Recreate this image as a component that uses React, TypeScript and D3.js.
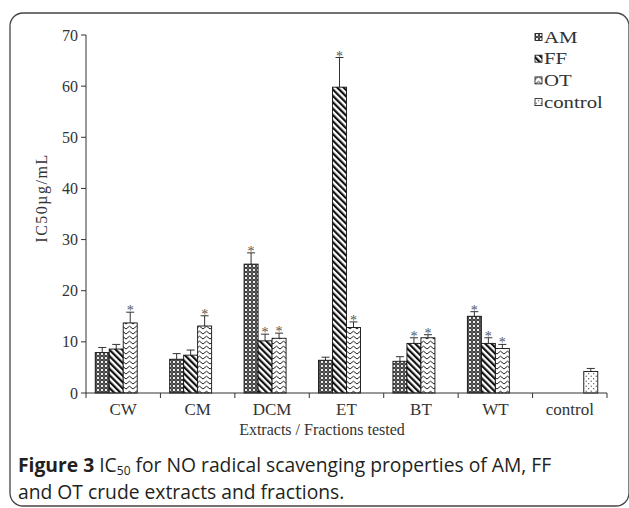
import React from "react";
import * as d3 from "d3";

// categories on the x axis
const categories = ["CW", "CM", "DCM", "ET", "BT", "WT", "control"];
const seriesNames = ["AM", "FF", "OT", "control"];

// IC50 values (µg/mL), null = no bar
const amValues = [7.9, 6.6, 25.2, 6.4, 6.2, 15.0, null];
const ffValues = [8.6, 7.4, 10.2, 59.8, 9.7, 9.7, null];
const otValues = [13.7, 13.1, 10.7, 12.8, 10.8, 8.7, null];
const controlValues = [null, null, null, null, null, null, 4.2];

// upper error bars
const amErrors = [1.0, 1.1, 2.2, 0.6, 0.9, 0.9, null];
const ffErrors = [0.9, 1.0, 1.3, 5.8, 1.1, 1.1, null];
const otErrors = [2.1, 2.0, 1.0, 1.1, 0.6, 0.8, null];
const controlErrors = [null, null, null, null, null, null, 0.6];

// significance stars
const amStars = [false, false, true, false, false, true, false];
const ffStars = [false, false, true, true, true, true, false];
const otStars = [true, true, true, true, true, true, false];
const controlStars = [false, false, false, false, false, false, false];

const yTicks = [0, 10, 20, 30, 40, 50, 60, 70];

const W = 629;
const H = 508;
const serif = "'Liberation Serif', 'Times New Roman', serif";
const sans = "'Open Sans', 'Noto Sans', sans-serif";
const ink = "#333";

const Patterns = () => (
  <defs>
    <pattern id="pAM" width="4" height="4" patternUnits="userSpaceOnUse">
      <rect width="4" height="4" fill="#2a2a2a" />
      <circle cx="2" cy="2" r="1.3" fill="#eee" />
      <circle cx="0" cy="0" r="0.7" fill="#bbb" />
      <circle cx="4" cy="4" r="0.7" fill="#bbb" />
      <circle cx="4" cy="0" r="0.7" fill="#bbb" />
      <circle cx="0" cy="4" r="0.7" fill="#bbb" />
    </pattern>
    <pattern id="pFF" width="4.5" height="4.5" patternUnits="userSpaceOnUse" patternTransform="rotate(-45)">
      <rect width="4.5" height="4.5" fill="#fff" />
      <rect width="2.2" height="4.5" fill="#111" />
    </pattern>
    <pattern id="pOT" width="7" height="5" patternUnits="userSpaceOnUse">
      <rect width="7" height="5" fill="#fff" />
      <path d="M0,4 L3.5,1.2 L7,4" fill="none" stroke="#222" strokeWidth="1" />
    </pattern>
    <pattern id="pCT" width="5" height="5" patternUnits="userSpaceOnUse">
      <rect width="5" height="5" fill="#fff" />
      <circle cx="1.2" cy="1.2" r="0.6" fill="#333" />
      <circle cx="3.7" cy="3.7" r="0.6" fill="#333" />
    </pattern>
  </defs>
);

const fills = ["url(#pAM)", "url(#pFF)", "url(#pOT)", "url(#pCT)"];

export default function App() {
  const x = d3.scaleBand<string>().domain(categories).range([86, 607]).padding(0);
  const xs = d3
    .scaleBand<string>()
    .domain(seriesNames)
    .range([0, x.bandwidth()])
    .paddingInner(0)
    .paddingOuter(0.66);
  const y = d3.scaleLinear().domain([0, 70]).range([393, 35]);

  const values = [amValues, ffValues, otValues, controlValues];
  const errors = [amErrors, ffErrors, otErrors, controlErrors];
  const stars = [amStars, ffStars, otStars, controlStars];

  const bars: any[] = [];
  seriesNames.forEach((s, si) => {
    categories.forEach((c, ci) => {
      const v = values[si][ci];
      if (v == null) return;
      bars.push({
        x: (x(c) as number) + (xs(s) as number),
        v,
        e: errors[si][ci] ?? 0,
        star: stars[si][ci],
        fill: fills[si],
        key: s + c,
      });
    });
  });
  const bw = xs.bandwidth();

  return (
    <svg width={W} height={H} style={{ position: "absolute", left: 0, top: 0 }}>
      <Patterns />
      <rect x={0} y={0} width={W} height={H} fill="#fff" />
      {/* frame */}
      <rect x={10} y={13} width={619} height={493} rx={13} fill="none" stroke="#444" strokeWidth={1.3} />

      {/* bars */}
      {bars.map((b) => {
        const top = y(b.v);
        const et = y(b.v + b.e);
        const cx = b.x + bw / 2;
        return (
          <g key={b.key}>
            <line x1={cx} x2={cx} y1={top} y2={et} stroke={ink} strokeWidth={1} />
            <line x1={cx - 4} x2={cx + 4} y1={et} y2={et} stroke={ink} strokeWidth={1} />
            <rect x={b.x} y={top} width={bw} height={y(0) - top} fill={b.fill} stroke="#111" strokeWidth={0.9} />
            {b.star && (
              <text x={cx} y={et + 3} textAnchor="middle" fontFamily={serif} fontSize={14} fill="#555">
                *
              </text>
            )}
          </g>
        );
      })}

      {/* y axis */}
      <line x1={86} x2={86} y1={y(70)} y2={y(0)} stroke={ink} strokeWidth={1} />
      {yTicks.map((t) => (
        <g key={t}>
          <line x1={81} x2={86} y1={y(t)} y2={y(t)} stroke={ink} strokeWidth={1} />
          <text x={78} y={y(t) + 5.5} textAnchor="end" fontFamily={serif} fontSize={16} fill={ink}>
            {t}
          </text>
        </g>
      ))}
      <text
        transform={`translate(47,198) rotate(-90)`}
        textAnchor="middle"
        fontFamily={serif}
        fontSize={16}
        letterSpacing={1.5}
        fill={ink}
      >
        IC50µg/mL
      </text>

      {/* x axis */}
      <line x1={86} x2={607} y1={y(0)} y2={y(0)} stroke={ink} strokeWidth={1} />
      {categories.map((c) => (
        <g key={c}>
          <line x1={(x(c) as number) + x.bandwidth()} x2={(x(c) as number) + x.bandwidth()} y1={y(0)} y2={y(0) + 5} stroke={ink} strokeWidth={1} />
          <text x={(x(c) as number) + x.bandwidth() / 2} y={415} textAnchor="middle" fontFamily={serif} fontSize={17} fill={ink}>
            {c}
          </text>
        </g>
      ))}
      <line x1={86} x2={86} y1={y(0)} y2={y(0) + 5} stroke={ink} strokeWidth={1} />
      <text x={322} y={435} textAnchor="middle" fontFamily={serif} fontSize={16} fill={ink}>
        Extracts / Fractions tested
      </text>

      {/* legend */}
      {seriesNames.map((s, i) => (
        <g key={s} transform={`translate(535,${37 + i * 21.7})`}>
          <rect x={0} y={-3.5} width={7} height={7} fill={fills[i]} stroke="#111" strokeWidth={0.8} />
          <text transform="translate(9,5.5) scale(1.3,1)" fontFamily={serif} fontSize={16} fill={ink}>
            {s}
          </text>
        </g>
      ))}

      {/* caption */}
      <text x={18} y={472} fontFamily={sans} fontSize={19.3} fill="#231f20">
        <tspan fontWeight="bold">Figure 3</tspan>
        <tspan> IC</tspan>
        <tspan fontSize={12} dy={3}>50</tspan>
        <tspan dy={-3}> for NO radical scavenging properties of AM, FF</tspan>
      </text>
      <text x={18} y={499} fontFamily={sans} fontSize={19.3} fill="#231f20">
        and OT crude extracts and fractions.
      </text>
    </svg>
  );
}
